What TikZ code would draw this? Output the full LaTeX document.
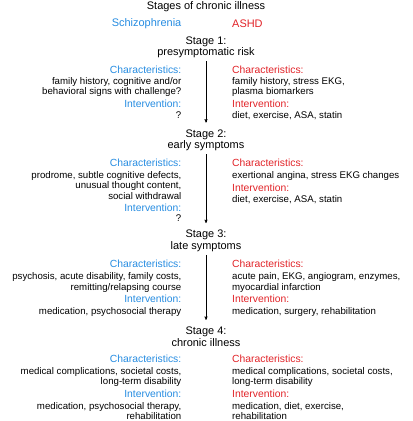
\documentclass[tikz,border=0pt]{standalone}
\usepackage{fontspec}
\setmainfont{Liberation Sans}
\usepackage{tikz}
\usetikzlibrary{arrows,positioning}

\definecolor{schizblue}{RGB}{38,140,225}
\definecolor{ashdred}{RGB}{225,35,40}

\begin{document}
\begin{tikzpicture}[x=1bp,y=-1bp,->,>=stealth',
      title/.style={font=\fontsize{11}{13}\selectfont,inner sep=0pt},
      stage/.style={font=\fontsize{11}{11.5}\selectfont,align=center,inner sep=0pt},
      lhead/.style={font=\fontsize{10.4}{12}\selectfont,text=schizblue,anchor=north east,inner sep=0pt},
      rhead/.style={font=\fontsize{10.4}{12}\selectfont,text=ashdred,anchor=north west,inner sep=0pt},
      ltext/.style={font=\fontsize{9.7}{10.3}\selectfont,align=right,anchor=north east,inner sep=0pt},
      rtext/.style={font=\fontsize{9.7}{10.3}\selectfont,align=left,anchor=north west,inner sep=0pt}]

    \useasboundingbox (0,0) rectangle (413,421);

    \node[title] (T) at (206,7) {Stages of chronic illness};
    \node[title,text=schizblue,anchor=east] (SZ) at (181.5,23.5) {Schizophrenia};
    \node[title,text=ashdred,anchor=west] (AS) at (232,23.5) {ASHD};

    % stage 1
    \node[stage] (S1) at (206,47.2) {Stage 1:\\presymptomatic risk};
    \node[lhead] (c1l) at (181.5,66.2) {Characteristics:};
    \node[ltext] (t1l) at (181.5,77.5) {family history, cognitive and/or\\behavioral signs with challenge?};
    \node[lhead] (i1l) at (181.5,100.2) {Intervention:};
    \node[ltext] (v1l) at (181.5,112) {?};
    \node[rhead] (c1r) at (232,66.2) {Characteristics:};
    \node[rtext] (t1r) at (232,77.5) {family history, stress EKG,\\plasma biomarkers};
    \node[rhead] (i1r) at (232,100.2) {Intervention:};
    \node[rtext] (v1r) at (232,111.5) {diet, exercise, ASA, statin};

    % stage 2
    \node[stage] (S2) at (206,140.5) {Stage 2:\\early symptoms};
    \node[lhead] (c2l) at (181.5,158.7) {Characteristics:};
    \node[ltext] (t2l) at (181.5,171.5) {prodrome, subtle cognitive defects,\\unusual thought content,\\social withdrawal};
    \node[lhead] (i2l) at (181.5,203.5) {Intervention:};
    \node[ltext] (v2l) at (181.5,215) {?};
    \node[rhead] (c2r) at (232,158.7) {Characteristics:};
    \node[rtext] (t2r) at (232,171.5) {exertional angina, stress EKG changes};
    \node[rhead] (i2r) at (232,183.5) {Intervention:};
    \node[rtext] (v2r) at (232,195) {diet, exercise, ASA, statin};

    % stage 3
    \node[stage] (S3) at (206,241) {Stage 3:\\late symptoms};
    \node[lhead] (c3l) at (181.5,260.2) {Characteristics:};
    \node[ltext] (t3l) at (181.5,272.7) {psychosis, acute disability, family costs,\\remitting/relapsing course};
    \node[lhead] (i3l) at (181.5,294.5) {Intervention:};
    \node[ltext] (v3l) at (181.5,307) {medication, psychosocial therapy};
    \node[rhead] (c3r) at (232,260.2) {Characteristics:};
    \node[rtext] (t3r) at (232,272.7) {acute pain, EKG, angiogram, enzymes,\\myocardial infarction};
    \node[rhead] (i3r) at (232,294.5) {Intervention:};
    \node[rtext] (v3r) at (232,307) {medication, surgery, rehabilitation};

    % stage 4
    \node[stage] (S4) at (206,336.7) {Stage 4:\\chronic illness};
    \node[lhead] (c4l) at (181.5,355.2) {Characteristics:};
    \node[ltext] (t4l) at (181.5,367.4) {medical complications, societal costs,\\long-term disability};
    \node[lhead] (i4l) at (181.5,389.5) {Intervention:};
    \node[ltext] (v4l) at (181.5,402) {medication, psychosocial therapy,\\rehabilitation};
    \node[rhead] (c4r) at (232,355.2) {Characteristics:};
    \node[rtext] (t4r) at (232,367.4) {medical complications, societal costs,\\long-term disability};
    \node[rhead] (i4r) at (232,389.5) {Intervention:};
    \node[rtext] (v4r) at (232,402) {medication, diet, exercise,\\rehabilitation};

    \path (S1) edge[shorten <=3pt,shorten >=7pt] (S2)
    (S2) edge[shorten <=3pt,shorten >=7pt] (S3)
    (S3) edge[shorten <=3pt,shorten >=7pt] (S4);

\end{tikzpicture}
\end{document}
